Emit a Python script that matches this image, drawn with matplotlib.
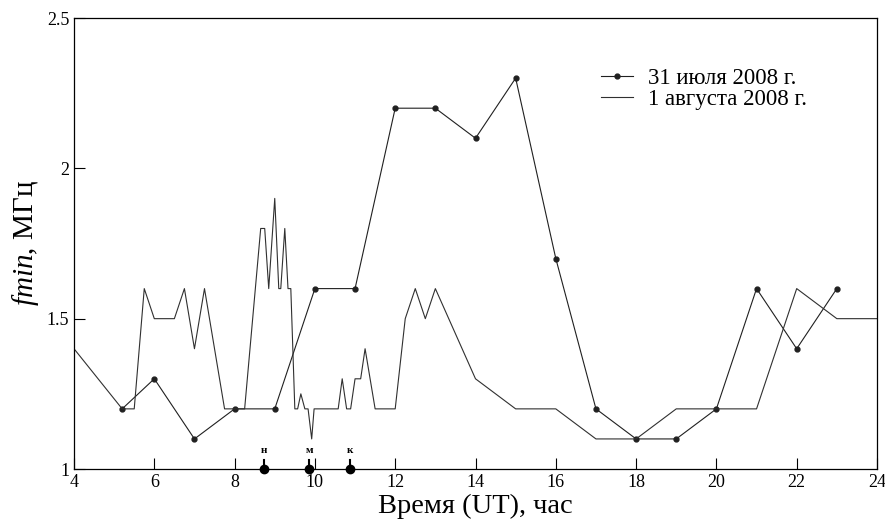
import matplotlib
matplotlib.use("Agg")
import matplotlib.pyplot as plt

plt.rcParams['font.family'] = ['Liberation Serif', 'DejaVu Serif']
plt.rcParams['mathtext.fontset'] = 'custom'
plt.rcParams['mathtext.it'] = 'Liberation Serif:italic'
plt.rcParams['mathtext.rm'] = 'Liberation Serif'

# 31 July 2008 (hourly, with markers)
t1 = [5.2, 6, 7, 8, 9, 10, 11, 12, 13, 14, 15, 16, 17, 18, 19, 20, 21, 22, 23]
f1 = [1.2, 1.3, 1.1, 1.2, 1.2, 1.6, 1.6, 2.2, 2.2, 2.1, 2.3, 1.7, 1.2, 1.1, 1.1, 1.2, 1.6, 1.4, 1.6]

# 1 August 2008
t2 = [4, 5.2, 5.5, 5.75, 6.0, 6.5, 6.75, 7.0, 7.25, 7.75, 8.25, 8.65, 8.75, 8.85, 9.0, 9.1, 9.15,
      9.25, 9.33, 9.4, 9.5, 9.57, 9.65, 9.75, 9.83, 9.92, 9.98, 10.58, 10.68, 10.79, 10.89, 11.0,
      11.14, 11.25, 11.5, 12.0, 12.25, 12.5, 12.75, 13.0, 14.0, 15.0, 16.0, 17.0, 18.0, 19.0, 21.0,
      22.0, 23.0, 24.0]
f2 = [1.4, 1.2, 1.2, 1.6, 1.5, 1.5, 1.6, 1.4, 1.6, 1.2, 1.2, 1.8, 1.8, 1.6, 1.9, 1.6, 1.6,
      1.8, 1.6, 1.6, 1.2, 1.2, 1.25, 1.2, 1.2, 1.1, 1.2, 1.2, 1.3, 1.2, 1.2, 1.3,
      1.3, 1.4, 1.2, 1.2, 1.5, 1.6, 1.5, 1.6, 1.3, 1.2, 1.2, 1.1, 1.1, 1.2, 1.2,
      1.6, 1.5, 1.5]

# eclipse phases: start, maximum, end
phase_t = [8.74, 9.86, 10.88]
phase_lbl = ['н', 'м', 'к']

fig = plt.figure(figsize=(8.85, 5.29), dpi=100)
ax = fig.add_axes([74/885, 1 - 469/529, (877-74)/885, (469-18)/529])

ax.plot(t1, f1, color='#202020', lw=0.8, marker='o', ms=3.5, label='31 июля 2008 г.')
ax.plot(t2, f2, color='#303030', lw=0.8, label='1 августа 2008 г.')

for t, lbl in zip(phase_t, phase_lbl):
    ax.plot([t, t], [1.0, 1.03], color='black', lw=1.5, clip_on=False)
    ax.plot(t, 1.0, 'o', color='black', ms=6, clip_on=False, zorder=5)
    ax.text(t, 1.045, lbl, ha='center', va='bottom', fontsize=8, fontweight='bold')

ax.set_xlim(4, 24)
ax.set_ylim(1, 2.5)
ax.set_xticks([4, 6, 8, 10, 12, 14, 16, 18, 20, 22, 24])
ax.set_yticks([1, 1.5, 2, 2.5])
ax.set_yticklabels(['1', '1.5', '2', '2.5'])
ax.tick_params(direction='in', length=8, labelsize=13, top=False, right=False)
for s in ax.spines.values():
    s.set_linewidth(0.9)

ax.set_xlabel('Время (UT), час', fontsize=20.5, labelpad=2)
ax.set_ylabel(r'$\mathit{fmin}$, МГц', fontsize=21, labelpad=4)

ax.legend(loc='upper left', bbox_to_anchor=(0.656, 0.89), frameon=False, fontsize=16.5,
          handlelength=1.4, labelspacing=0.0, borderpad=0, borderaxespad=0,
          handletextpad=0.65)

fig.savefig('out.png', dpi=100)
